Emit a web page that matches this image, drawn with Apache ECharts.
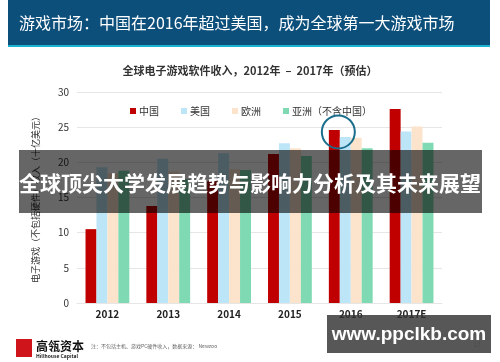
<!DOCTYPE html>
<html><head><meta charset="utf-8">
<script src="https://cdn.jsdelivr.net/npm/echarts@6/dist/echarts.min.js"></script>
<style>html,body{margin:0;padding:0;background:#fff}#c{width:500px;height:362px}</style>
</head><body><div id="c"></div>
<script>
var categories = ['2012', '2013', '2014', '2015', '2016', '2017E'];
var seriesNames = ['中国', '美国', '欧洲', '亚洲（不含中国）'];
var china = [10.5, 13.8, 17.3, 21.2, 24.6, 27.6];
var usa = [19.3, 20.5, 21.3, 22.7, 23.6, 24.4];
var europe = [18.4, 18.7, 19.0, 22.0, 23.5, 25.1];
var asia = [18.8, 17.6, 18.9, 20.9, 22.0, 22.8];
var yTicks = [0, 5, 10, 15, 20, 25, 30];
var colors = ['#c00000', '#bde5f8', '#fce4cc', '#7fd9b2'];
var FONT = '"Noto Sans CJK SC", "Noto Sans", sans-serif';

var chart = echarts.init(document.getElementById('c'), null, {renderer: 'canvas'});
var values = [china, usa, europe, asia];
var series = values.map(function (v, i) {
  var s = {
    name: seriesNames[i], type: 'bar', data: v,
    barGap: '0%', barCategoryGap: '28%',
    itemStyle: {color: colors[i]}, z: 2
  };
  if (i === 0) {
    s.markPoint = {
      symbol: 'circle', symbolSize: 33, symbolOffset: [4, 2],
      silent: true, label: {show: false},
      itemStyle: {color: 'rgba(0,0,0,0)', borderColor: '#1b6d8c', borderWidth: 2},
      data: [{coord: [categories[4], china[4]]}]
    };
  }
  return s;
});

chart.setOption({
  backgroundColor: '#fff',
  animation: false,
  textStyle: {fontFamily: FONT},
  title: {
    text: '全球电子游戏软件收入，2012年  –  2017年（预估）',
    left: 'center', top: 60,
    textStyle: {fontSize: 11, fontWeight: 'bold', color: '#333', fontFamily: FONT}
  },
  legend: {
    data: seriesNames, left: 125, top: 101,
    icon: 'rect', itemWidth: 6, itemHeight: 6, itemGap: 22,
    textStyle: {fontSize: 10, color: '#333', fontFamily: FONT, padding: [0, 0, 0, -2]}
  },
  grid: {left: 77, right: 58, top: 92, bottom: 59},
  xAxis: {
    type: 'category', data: categories,
    axisLine: {show: true, lineStyle: {color: '#e6e6e6'}},
    axisTick: {show: false},
    axisLabel: {fontSize: 10, fontWeight: 'bold', color: '#222', margin: 6, fontFamily: FONT}
  },
  yAxis: {
    type: 'value', min: yTicks[0], max: yTicks[yTicks.length - 1], interval: 5,
    name: '电子游戏（不包括硬件）收入（十亿美元）',
    nameLocation: 'middle', nameGap: 37, nameRotate: 90,
    nameTextStyle: {fontSize: 9, color: '#333', fontFamily: FONT},
    axisLine: {show: false}, axisTick: {show: false},
    axisLabel: {fontSize: 10, color: '#333', margin: 8, fontFamily: FONT},
    splitLine: {lineStyle: {color: '#e6e6e6'}}
  },
  series: series,
  graphic: [
    {type: 'rect', z: 100, shape: {x: 8, y: 0, width: 482, height: 45}, style: {fill: '#0c4f7b'}},
    {type: 'rect', z: 100, shape: {x: 8, y: 45, width: 482, height: 2}, style: {fill: '#1ab3d4'}},
    {type: 'text', z: 101, x: 19, y: 23, style: {
      text: '游戏市场：中国在2016年超过美国，成为全球第一大游戏市场',
      fill: '#fff', font: '16px ' + FONT, textVerticalAlign: 'middle'}},
    {type: 'rect', z: 100, shape: {x: 19, y: 150, width: 463, height: 63}, style: {fill: 'rgba(0,0,0,0.6)'}},
    {type: 'text', z: 101, x: 250, y: 183, style: {
      text: '全球顶尖大学发展趋势与影响力分析及其未来展望',
      fill: '#fff', font: 'bold 21px ' + FONT, textAlign: 'center', textVerticalAlign: 'middle'}},
    {type: 'rect', z: 100, shape: {x: 16, y: 339, width: 16, height: 18}, style: {fill: '#d0141b'}},
    {type: 'text', z: 101, x: 36, y: 346, style: {
      text: '高瓴资本', fill: '#111', font: 'bold 12px ' + FONT, textVerticalAlign: 'middle'}},
    {type: 'text', z: 101, x: 36, y: 356, style: {
      text: 'Hillhouse Capital', fill: '#222', font: 'bold 5px ' + FONT, textVerticalAlign: 'middle'}},
    {type: 'text', z: 101, x: 91, y: 346, style: {
      text: '注：不包括主机、游戏PC硬件收入，数据来源： Newzoo', fill: '#666', font: '5px ' + FONT, textVerticalAlign: 'middle'}},
    {type: 'text', z: 99, x: 474, y: 345, style: {
      text: '17', fill: '#bbb', font: '6px ' + FONT, textVerticalAlign: 'middle'}},
    {type: 'rect', z: 100, shape: {x: 327, y: 315, width: 164, height: 38}, style: {fill: 'rgba(50,50,50,0.82)'}},
    {type: 'text', z: 101, x: 409, y: 335, style: {
      text: 'www.ppclkb.com', fill: '#fff', font: 'bold 19px "Liberation Sans", Arial, sans-serif', textAlign: 'center', textVerticalAlign: 'middle'}}
  ]
});
</script></body></html>
